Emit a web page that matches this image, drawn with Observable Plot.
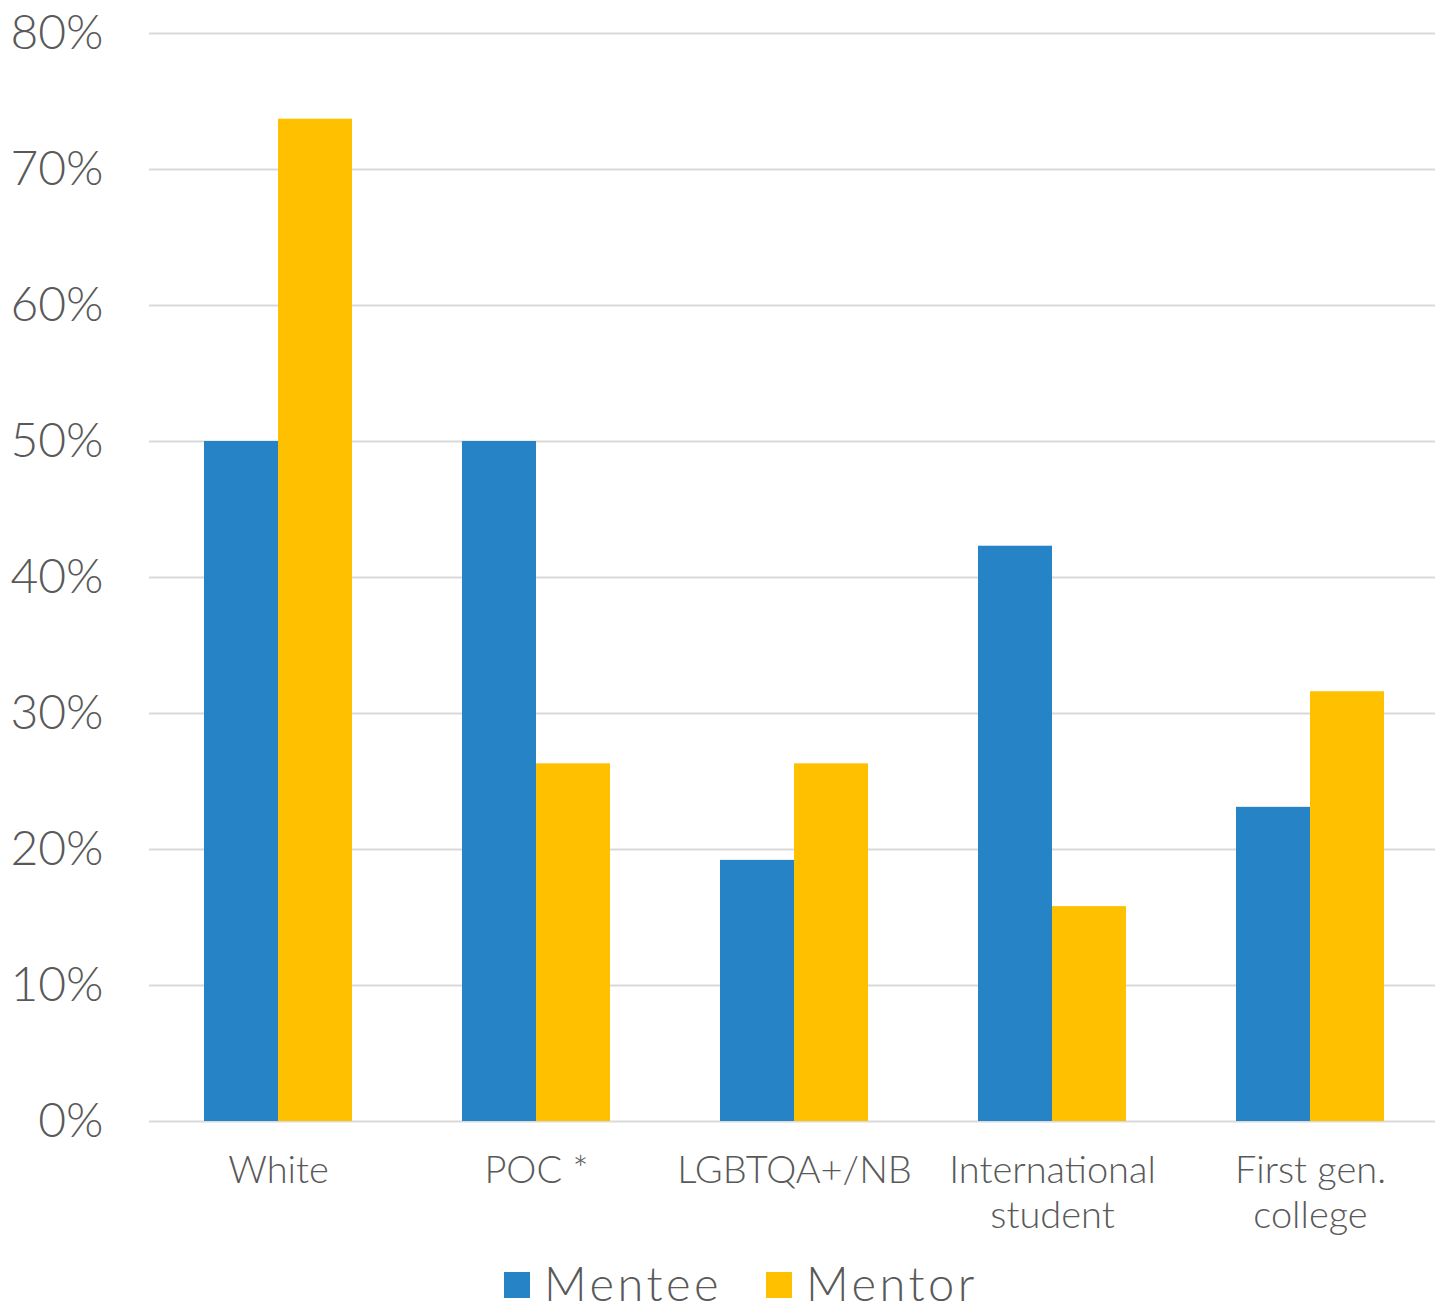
<!DOCTYPE html>
<html>
<head>
<meta charset="utf-8">
<script src="https://cdn.jsdelivr.net/npm/d3@7"></script>
<script src="https://cdn.jsdelivr.net/npm/@observablehq/plot@0.6"></script>
<style>
  html, body { margin: 0; padding: 0; background: #ffffff; overflow: hidden; }
  #chart { width: 1435px; }
  .legend {
    display: flex; justify-content: center; align-items: center;
    height: 66px; padding-top: 10px; padding-left: 47px; box-sizing: border-box;
    font-family: Lato, "Open Sans", sans-serif; font-weight: 300;
    font-size: 47px; line-height: 56px; letter-spacing: 3.5px; color: #595959;
  }
  .legend .item { display: flex; align-items: center; }
  .legend .item + .item { margin-left: 44px; }
  .legend .swatch { width: 26px; height: 26px; margin-right: 14px; margin-top: 4px; }
</style>
</head>
<body>
<div id="chart"></div>
<script>
// Share of mentees and mentors in each group (percent)
const categories = ["White", "POC *", "LGBTQA+/NB", "International student", "First gen. college"];
const categoryLabels = ["White", "POC *", "LGBTQA+/NB", "International\nstudent", "First gen.\ncollege"];
const series = ["Mentee", "Mentor"];
const seriesColors = ["#2683C6", "#FFC000"];
const menteeValues = [50, 50, 19.2, 42.3, 23.1];
const mentorValues = [73.7, 26.3, 26.3, 15.8, 31.6];
const yTicks = [0, 10, 20, 30, 40, 50, 60, 70, 80];

const rows = categories.flatMap((c, i) => [
  {category: c, series: "Mentee", value: menteeValues[i]},
  {category: c, series: "Mentor", value: mentorValues[i]}
]);
const labelOf = new Map(categories.map((c, i) => [c, categoryLabels[i]]));

const FONT = "Lato, 'Open Sans', sans-serif";

// Facets touch each other so the gridlines run unbroken; the gap
// between groups comes from the outer padding of the inner x scale.
const chart = Plot.plot({
  width: 1435,
  height: 1245,
  marginLeft: 149,
  marginRight: -4,
  marginTop: 33,
  marginBottom: 124,
  style: {fontFamily: FONT, fontWeight: 300, color: "#595959", background: "#ffffff"},
  fx: {domain: categories, padding: 0, label: null},
  x: {domain: series, paddingInner: 0, paddingOuter: 0.732, axis: null},
  y: {domain: [0, 80], axis: null},
  color: {domain: series, range: seriesColors},
  marks: [
    Plot.ruleY(yTicks, {stroke: "#D9D9D9", strokeWidth: 2}),
    Plot.barY(rows, {fx: "category", x: "series", y: "value", fill: "series"}),
    Plot.axisY({
      ticks: yTicks, tickSize: 0, tickPadding: 46, fontSize: 48,
      tickFormat: d => d + "%", label: null
    }),
    Plot.axisFx({
      anchor: "bottom", tickSize: 0, tickPadding: 30, fontSize: 38,
      lineHeight: 1.18, letterSpacing: "0.6px",
      tickFormat: d => labelOf.get(d), label: null
    })
  ]
});
document.getElementById("chart").append(chart);

// Legend below the chart
const legend = document.createElement("div");
legend.className = "legend";
series.forEach((s, i) => {
  const item = document.createElement("div");
  item.className = "item";
  const sw = document.createElement("span");
  sw.className = "swatch";
  sw.style.background = seriesColors[i];
  const label = document.createElement("span");
  label.textContent = s;
  item.append(sw, label);
  legend.append(item);
});
document.getElementById("chart").append(legend);
</script>
</body>
</html>
